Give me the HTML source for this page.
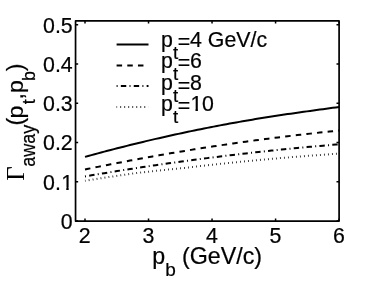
<!DOCTYPE html>
<html><head><meta charset="utf-8"><title>chart</title>
<style>
html,body{margin:0;padding:0;background:#fff;}
body{width:374px;height:281px;overflow:hidden;}
svg{display:block;will-change:transform;}
text{font-family:"Liberation Sans",sans-serif;fill:#000;stroke:#000;stroke-width:0.22px;}
.s{font-family:"Liberation Serif",serif;stroke:none;}
</style></head><body>
<svg width="374" height="281" viewBox="0 0 374 281">
<rect width="374" height="281" fill="#fff"/>

<g fill="none" stroke="#000" stroke-linecap="butt">
<rect x="75.55" y="20.9" width="263.55" height="200.2" stroke-width="1.7" stroke-linejoin="round"/>
<path d="M85.00,221.1 v-2.6 M85.00,20.9 v2.6 M148.53,221.1 v-2.6 M148.53,20.9 v2.6 M212.05,221.1 v-2.6 M212.05,20.9 v2.6 M275.58,221.1 v-2.6 M275.58,20.9 v2.6 M339.10,221.1 v-2.6 M339.10,20.9 v2.6 M75.55,221.10 h2.6 M339.1,221.10 h-2.6 M75.55,181.83 h2.6 M339.1,181.83 h-2.6 M75.55,142.56 h2.6 M339.1,142.56 h-2.6 M75.55,103.29 h2.6 M339.1,103.29 h-2.6 M75.55,64.02 h2.6 M339.1,64.02 h-2.6 M75.55,24.75 h2.6 M339.1,24.75 h-2.6" stroke-width="1.5"/>
<path d="M85.00,156.86 L88.22,155.98 L91.43,155.09 L94.65,154.22 L97.87,153.35 L101.08,152.49 L104.30,151.64 L107.52,150.79 L110.73,149.95 L113.95,149.12 L117.16,148.29 L120.38,147.47 L123.60,146.66 L126.81,145.85 L130.03,145.05 L133.25,144.26 L136.46,143.47 L139.68,142.69 L142.90,141.92 L146.11,141.15 L149.33,140.39 L152.55,139.64 L155.76,138.90 L158.98,138.16 L162.19,137.42 L165.41,136.70 L168.63,135.98 L171.84,135.27 L175.06,134.56 L178.28,133.86 L181.49,133.17 L184.71,132.48 L187.93,131.81 L191.14,131.13 L194.36,130.47 L197.58,129.81 L200.79,129.16 L204.01,128.51 L207.23,127.88 L210.44,127.24 L213.66,126.62 L216.87,126.00 L220.09,125.39 L223.31,124.79 L226.52,124.19 L229.74,123.60 L232.96,123.01 L236.17,122.44 L239.39,121.86 L242.61,121.30 L245.82,120.74 L249.04,120.19 L252.26,119.65 L255.47,119.11 L258.69,118.58 L261.91,118.06 L265.12,117.54 L268.34,117.03 L271.55,116.53 L274.77,116.03 L277.99,115.54 L281.20,115.06 L284.42,114.58 L287.64,114.11 L290.85,113.65 L294.07,113.19 L297.29,112.73 L300.50,112.28 L303.72,111.82 L306.94,111.37 L310.15,110.93 L313.37,110.48 L316.58,110.04 L319.80,109.60 L323.02,109.16 L326.23,108.72 L329.45,108.29 L332.67,107.86 L335.88,107.43 L339.10,107.01" stroke-width="2"/>
<path d="M85.00,169.50 L88.22,168.83 L91.43,168.17 L94.65,167.51 L97.87,166.86 L101.08,166.21 L104.30,165.57 L107.52,164.93 L110.73,164.30 L113.95,163.66 L117.16,163.04 L120.38,162.42 L123.60,161.80 L126.81,161.19 L130.03,160.58 L133.25,159.98 L136.46,159.38 L139.68,158.78 L142.90,158.19 L146.11,157.61 L149.33,157.02 L152.55,156.45 L155.76,155.88 L158.98,155.31 L162.19,154.74 L165.41,154.18 L168.63,153.63 L171.84,153.08 L175.06,152.53 L178.28,151.99 L181.49,151.46 L184.71,150.92 L187.93,150.40 L191.14,149.87 L194.36,149.35 L197.58,148.84 L200.79,148.33 L204.01,147.82 L207.23,147.32 L210.44,146.82 L213.66,146.33 L216.87,145.84 L220.09,145.36 L223.31,144.88 L226.52,144.41 L229.74,143.94 L232.96,143.47 L236.17,143.01 L239.39,142.55 L242.61,142.10 L245.82,141.65 L249.04,141.21 L252.26,140.77 L255.47,140.33 L258.69,139.90 L261.91,139.48 L265.12,139.06 L268.34,138.64 L271.55,138.23 L274.77,137.82 L277.99,137.42 L281.20,137.02 L284.42,136.62 L287.64,136.23 L290.85,135.85 L294.07,135.46 L297.29,135.09 L300.50,134.72 L303.72,134.35 L306.94,133.98 L310.15,133.62 L313.37,133.27 L316.58,132.92 L319.80,132.57 L323.02,132.23 L326.23,131.90 L329.45,131.56 L332.67,131.24 L335.88,130.91 L339.10,130.59" stroke-width="2" stroke-dasharray="5.5 5.18"/>
<path d="M85.00,176.41 L88.22,175.86 L91.43,175.31 L94.65,174.77 L97.87,174.24 L101.08,173.70 L104.30,173.17 L107.52,172.64 L110.73,172.12 L113.95,171.60 L117.16,171.09 L120.38,170.57 L123.60,170.07 L126.81,169.56 L130.03,169.06 L133.25,168.56 L136.46,168.07 L139.68,167.58 L142.90,167.09 L146.11,166.61 L149.33,166.13 L152.55,165.65 L155.76,165.18 L158.98,164.71 L162.19,164.25 L165.41,163.79 L168.63,163.33 L171.84,162.88 L175.06,162.43 L178.28,161.98 L181.49,161.54 L184.71,161.10 L187.93,160.66 L191.14,160.23 L194.36,159.80 L197.58,159.38 L200.79,158.96 L204.01,158.54 L207.23,158.12 L210.44,157.71 L213.66,157.31 L216.87,156.90 L220.09,156.51 L223.31,156.11 L226.52,155.72 L229.74,155.33 L232.96,154.95 L236.17,154.56 L239.39,154.19 L242.61,153.81 L245.82,153.44 L249.04,153.08 L252.26,152.71 L255.47,152.35 L258.69,152.00 L261.91,151.65 L265.12,151.30 L268.34,150.95 L271.55,150.61 L274.77,150.28 L277.99,149.94 L281.20,149.61 L284.42,149.29 L287.64,148.96 L290.85,148.64 L294.07,148.33 L297.29,148.02 L300.50,147.71 L303.72,147.40 L306.94,147.10 L310.15,146.81 L313.37,146.51 L316.58,146.22 L319.80,145.94 L323.02,145.65 L326.23,145.38 L329.45,145.10 L332.67,144.83 L335.88,144.56 L339.10,144.30" stroke-width="2" stroke-dasharray="1.0 3.25 5.4 3.25"/>
<path d="M85.00,180.82 L88.22,180.30 L91.43,179.78 L94.65,179.27 L97.87,178.76 L101.08,178.26 L104.30,177.75 L107.52,177.26 L110.73,176.76 L113.95,176.29 L117.16,175.81 L120.38,175.34 L123.60,174.87 L126.81,174.41 L130.03,173.95 L133.25,173.49 L136.46,173.08 L139.68,172.70 L142.90,172.34 L146.11,171.97 L149.33,171.61 L152.55,171.25 L155.76,170.90 L158.98,170.55 L162.19,170.20 L165.41,169.86 L168.63,169.52 L171.84,169.18 L175.06,168.85 L178.28,168.52 L181.49,168.20 L184.71,167.88 L187.93,167.50 L191.14,167.12 L194.36,166.75 L197.58,166.38 L200.79,166.01 L204.01,165.65 L207.23,165.29 L210.44,164.93 L213.66,164.58 L216.87,164.23 L220.09,163.88 L223.31,163.54 L226.52,163.20 L229.74,162.87 L232.96,162.54 L236.17,162.21 L239.39,161.89 L242.61,161.57 L245.82,161.25 L249.04,160.94 L252.26,160.63 L255.47,160.32 L258.69,160.02 L261.91,159.72 L265.12,159.43 L268.34,159.14 L271.55,158.85 L274.77,158.56 L277.99,158.28 L281.20,158.01 L284.42,157.73 L287.64,157.46 L290.85,157.20 L294.07,156.94 L297.29,156.68 L300.50,156.42 L303.72,156.17 L306.94,155.92 L310.15,155.68 L313.37,155.44 L316.58,155.20 L319.80,154.97 L323.02,154.74 L326.23,154.51 L329.45,154.29 L332.67,154.07 L335.88,153.86 L339.10,153.65" stroke-width="2" stroke-dasharray="0.75 3.262" stroke-dashoffset="0.25"/>
<path d="M116.6,44.4 L148.5,44.4" stroke-width="2"/>
<path d="M116.6,65.5 L148.5,65.5" stroke-width="2" stroke-dasharray="5.5 5.18"/>
<path d="M116.6,85.9 L148.5,85.9" stroke-width="2" stroke-dasharray="1.0 3.25 5.4 3.25"/>
<path d="M116.6,106.9 L148.5,106.9" stroke-width="2" stroke-dasharray="0.75 3.262" stroke-dashoffset="0.25"/>
</g>
<g opacity="0.999">
<text x="72.7" y="229.2" font-size="21.33" text-anchor="end">0</text>
<clipPath id="c1"><rect x="60.24" y="168.47" width="13.86" height="18.88"/><rect x="66.25" y="185.53" width="2.45" height="4.37"/></clipPath><text x="61.24" y="189.8" font-size="21.33" clip-path="url(#c1)">1</text>
<text x="60.84" y="189.8" font-size="21.33" text-anchor="end">0.</text>
<text x="72.7" y="150.1" font-size="21.33" text-anchor="end">0.2</text>
<text x="72.7" y="111.0" font-size="21.33" text-anchor="end">0.3</text>
<text x="72.7" y="71.6" font-size="21.33" text-anchor="end">0.4</text>
<text x="72.7" y="33.4" font-size="21.33" text-anchor="end">0.5</text>
<text x="84.80" y="243.4" font-size="21.33" text-anchor="middle">2</text>
<text x="148.33" y="243.4" font-size="21.33" text-anchor="middle">3</text>
<text x="211.85" y="243.4" font-size="21.33" text-anchor="middle">4</text>
<text x="275.38" y="243.4" font-size="21.33" text-anchor="middle">5</text>
<text x="338.90" y="243.4" font-size="21.33" text-anchor="middle">6</text>
<text x="160.9" y="46.9" font-size="21.33">p</text>
<text x="173.0" y="58.90" font-size="18.7">t</text>
<text x="177.7" y="49.20" font-size="21.33">=</text>
<text x="190.06" y="46.9" font-size="21.33">4 GeV/c</text>
<text x="160.9" y="68.0" font-size="21.33">p</text>
<text x="173.0" y="80.00" font-size="18.7">t</text>
<text x="177.7" y="70.30" font-size="21.33">=</text>
<text x="190.06" y="68.0" font-size="21.33">6</text>
<text x="160.9" y="90.3" font-size="21.33">p</text>
<text x="173.0" y="102.30" font-size="18.7">t</text>
<text x="177.7" y="92.60" font-size="21.33">=</text>
<text x="190.06" y="90.3" font-size="21.33">8</text>
<text x="160.9" y="111.1" font-size="21.33">p</text>
<text x="173.0" y="123.10" font-size="18.7">t</text>
<text x="177.7" y="113.40" font-size="21.33">=</text>
<clipPath id="c2"><rect x="189.46" y="89.77" width="13.86" height="18.88"/><rect x="195.47" y="106.83" width="2.45" height="4.37"/></clipPath><text x="190.46" y="111.1" font-size="21.33" clip-path="url(#c2)">1</text>
<text x="201.92" y="111.1" font-size="21.33">0</text>
<text x="152.2" y="264.3" font-size="23.2">p</text>
<text x="165.3" y="275.9" font-size="19">b</text>
<text x="182.0" y="264.4" font-size="23.25">(GeV/c)</text>
<text class="s" transform="translate(24.1,180.65) rotate(-90) scale(1,1.0)" font-size="25">Γ</text>
<text transform="translate(35.4,166.7) rotate(-90) scale(1,1.08)" font-size="18">away</text>
<text transform="translate(23.3,125.4) rotate(-90) scale(1,1.0)" font-size="23.2">(</text>
<text transform="translate(23.3,118.6) rotate(-90) scale(1,0.95)" font-size="23.2">p</text>
<text transform="translate(35.3,104.2) rotate(-90) scale(1,1.06)" font-size="18">t</text>
<text transform="translate(23.3,99.5) rotate(-90) scale(1,1.0)" font-size="23.2">,</text>
<text transform="translate(23.3,93.1) rotate(-90) scale(1,0.95)" font-size="23.2">p</text>
<text transform="translate(35.2,80.9) rotate(-90) scale(1,1.06)" font-size="18">b</text>
<text transform="translate(23.2,71.2) rotate(-90) scale(1,1.0)" font-size="23.2">)</text>
</g>
</svg></body></html>
